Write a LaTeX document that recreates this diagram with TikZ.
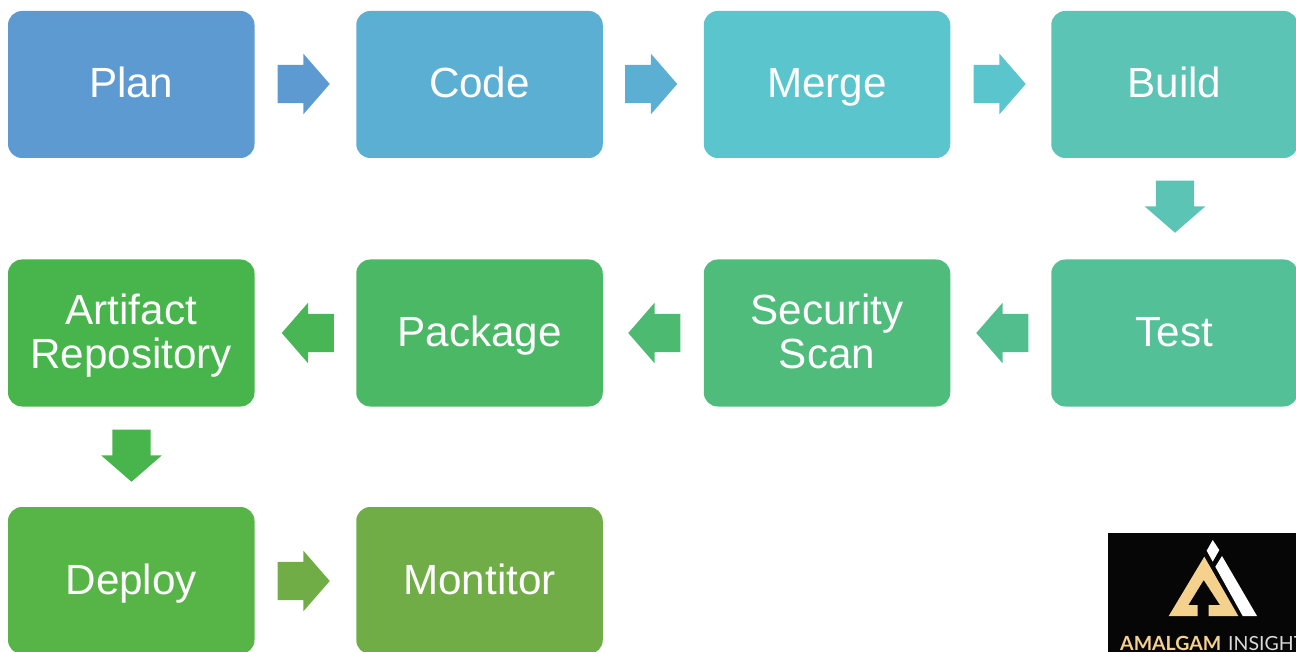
\documentclass[tikz,border=0pt]{standalone}
\usepackage{fontspec}
\setmainfont{Liberation Sans}
\newfontfamily\logofont{Lato}
\usetikzlibrary{shapes.arrows}
\newcommand{\bline}[1]{\rule[-10pt]{0pt}{47pt}#1}
\newcommand{\bfirst}[1]{\rule{0pt}{37pt}#1}
\newcommand{\blast}[1]{\rule[-10pt]{0pt}{10pt}#1}
\definecolor{cPlan}{HTML}{5E9AD2}
\definecolor{cCode}{HTML}{5AAFD3}
\definecolor{cMerge}{HTML}{5BC5CE}
\definecolor{cBuild}{HTML}{5CC4B4}
\definecolor{cTest}{HTML}{54C098}
\definecolor{cScan}{HTML}{50BC7C}
\definecolor{cPack}{HTML}{4AB865}
\definecolor{cArt}{HTML}{48B54C}
\definecolor{cDep}{HTML}{57B548}
\definecolor{cMon}{HTML}{70AD47}
\definecolor{cGold}{HTML}{F4D18C}
\definecolor{cLogoBg}{HTML}{060606}
\tikzset{
  stage/.style={fill=#1,rounded corners=14pt,minimum width=246.5pt,minimum height=147pt,
    inner sep=0pt,text=white,align=center,font=\fontsize{42.2}{44}\selectfont},
  blockarrow/.style={single arrow,fill=#1,inner sep=0pt,anchor=tip,
    minimum height=52pt,minimum width=60pt,
    single arrow head extend=11pt,single arrow tip angle=98,single arrow head indent=0pt},
  toright/.style={blockarrow=#1,text width=1pt,text height=38pt,text depth=0pt,shape border rotate=0},
  toleft/.style={blockarrow=#1,text width=1pt,text height=38pt,text depth=0pt,shape border rotate=180},
  todown/.style={blockarrow=#1,text width=38pt,text height=1pt,text depth=0pt,shape border rotate=270},
  logogold/.style={fill=cGold},
  logowhite/.style={fill=white}
}
\begin{document}
\begin{tikzpicture}[x=1pt,y=-1pt]
\clip (0,0) rectangle (1296,652);
\useasboundingbox (0,0) rectangle (1296,652);
\node[stage=cPlan]  (plan)  at (131.25,84.5) {\bline{Plan}};
\node[stage=cCode]  (code)  at (479.5,84.5) {\bline{Code}};
\node[stage=cMerge] (merge) at (827,84.5) {\bline{Merge}};
\node[stage=cBuild] (build) at (1174.5,84.5) {\bline{Build}};
\node[stage=cTest]  (test)  at (1174.5,333) {\bline{Test}};
\node[stage=cScan]  (scan)  at (827,333) {\bfirst{Security}\\\blast{Scan}};
\node[stage=cPack]  (pack)  at (479.5,333) {\bline{Package}};
\node[stage=cArt]   (art)   at (131.25,333) {\bfirst{Artifact}\\\blast{Repository}};
\node[stage=cDep]   (dep)   at (131.25,580.5) {\bline{Deploy}};
\node[stage=cMon]   (mon)   at (479.5,580.5) {\bline{Montitor}};
\node[toright=cPlan] (a1) at (330,84) {};
\node[toright=cCode] (a2) at (677.5,84) {};
\node[toright=cMerge] (a3) at (1026,84) {};
\node[todown=cBuild] (a4) at (1175,233) {};
\node[toleft=cTest!60!cScan] (a5) at (976,333) {};
\node[toleft=cScan!50!cPack] (a6) at (628,333) {};
\node[toleft=cPack!40!cArt] (a7) at (281.5,333) {};
\node[todown=cArt] (a8) at (131.5,482) {};
\node[toright=cMon] (a9) at (330,581) {};
% logo
\fill[cLogoBg] (1108,533) rectangle (1296,652);
\fill[logogold] (1204.3,556.7) -- (1238.3,616) -- (1208.7,616) -- (1208.7,605) -- (1220,605) -- (1203.7,580) -- (1188.3,605) -- (1197.7,605) -- (1197.7,616) -- (1168.7,616) -- cycle;
\fill[logowhite] (1212.7,540) -- (1219.3,550) -- (1212.7,561.7) -- (1206.7,550.7) -- cycle;
\fill[logowhite] (1222,556) -- (1257,616) -- (1242.7,616) -- (1215.3,566.7) -- cycle;
\node[anchor=base west,inner sep=0pt,text=cGold,font=\logofont\bfseries\fontsize{19.5}{19.5}\selectfont] (lg1) at (1120,650) {AMALGAM};
\node[anchor=base west,inner sep=0pt,text=black!15,font=\logofont\fontsize{19.5}{19.5}\selectfont] (lg2) at (1228,650) {INSIGHT};
\end{tikzpicture}
\end{document}
